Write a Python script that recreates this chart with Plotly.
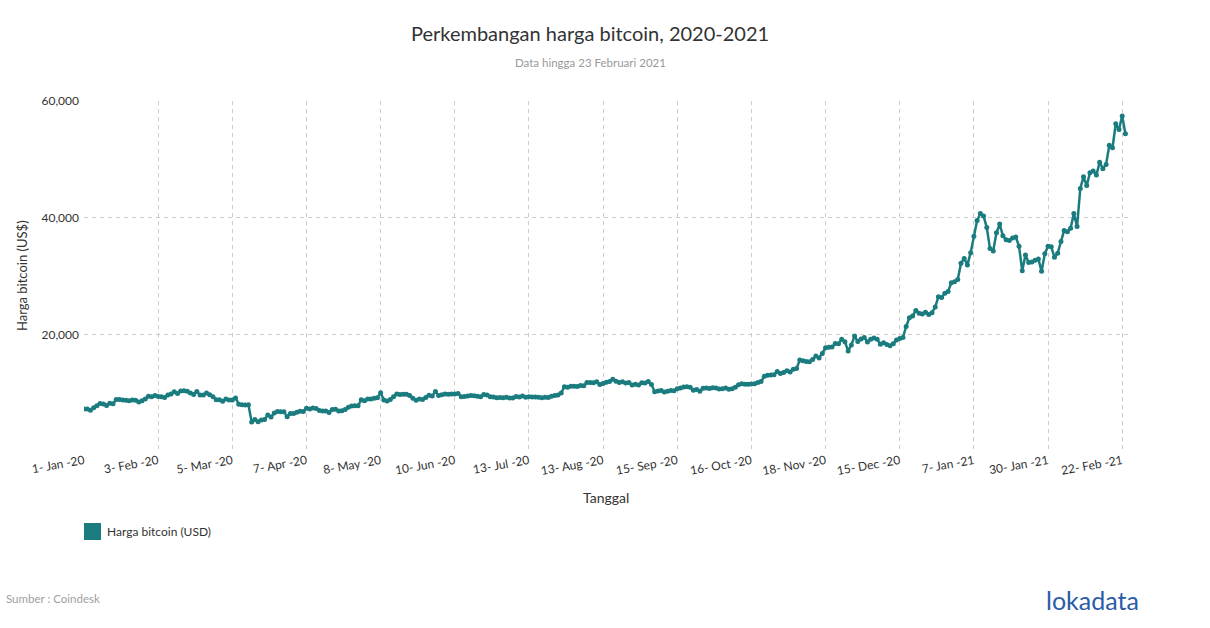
import pandas as pd
import plotly.graph_objects as go

# ---- data (price in USD) ----
weekday_dates = pd.bdate_range("2020-01-01", "2020-12-04")
daily_dates = pd.date_range("2020-12-05", "2021-02-23")
dates = list(weekday_dates) + list(daily_dates)

price_jan20 = [7193, 7200, 6985, 7411, 7770, 8160, 8045, 7818, 8180, 8110, 8810, 8820,
               8725, 8700, 8630, 8735, 8680, 8395, 8595, 8910, 9390, 9290, 9510]
price_feb20 = [9345, 9290, 9180, 9615, 9755, 10165, 9860, 10270, 10350, 10240, 9935,
               9705, 10185, 9595, 9610, 9925, 9650, 9315, 8785, 8785]
price_mar20 = [8530, 8915, 8755, 8755, 9080, 8035, 7935, 7895, 7935, 4970, 5390, 5015,
               5330, 5395, 6190, 5830, 6495, 6770, 6710, 6750, 5880, 6430]
price_apr20 = [6410, 6640, 6810, 6790, 7340, 7205, 7360, 7300, 6960, 6845, 6860, 6620,
               7115, 7150, 6840, 6880, 7125, 7480, 7700, 7760, 7760, 8780]
price_may20 = [8620, 8900, 8900, 9030, 9150, 9990, 8760, 8570, 8810, 9300, 9790, 9670,
               9730, 9730, 9520, 9060, 8720, 8900, 8840, 9180, 9570]
price_jun20 = [9450, 10200, 9520, 9660, 9790, 9750, 9770, 9780, 9875, 9320, 9340, 9430,
               9525, 9460, 9380, 9290, 9680, 9620, 9290, 9250, 9120, 9190]
price_jul20 = [9135, 9230, 9090, 9070, 9340, 9250, 9435, 9230, 9300, 9240, 9250, 9195,
               9130, 9210, 9160, 9390, 9520, 9580, 9930, 11030, 10910, 11100, 11110]
price_aug20 = [11070, 11230, 11190, 11740, 11760, 11680, 11880, 11400, 11570, 11780,
               11910, 12290, 11970, 11750, 11860, 11650, 11750, 11330, 11460, 11320, 11710]
price_sep20 = [11650, 11920, 11390, 10170, 10280, 10380, 10130, 10240, 10370, 10330,
               10680, 10790, 10960, 11000, 10920, 10420, 10540, 10240, 10740, 10780,
               10700, 10840]
price_oct20 = [10780, 10620, 10670, 10790, 10600, 10670, 10920, 11370, 11550, 11430,
               11430, 11500, 11510, 11760, 11920, 12820, 12990, 13030, 13070, 13650,
               13280, 13460]
price_nov20 = [13760, 13550, 14030, 14150, 15590, 15480, 15330, 15300, 15700, 16280,
               15960, 16730, 17680, 17800, 17820, 18410, 18370, 19160, 18730, 17150, 18180]
price_dec20 = [19700, 18790, 19220, 19450,
               18700, 19150, 19360, 19170, 18320, 18550, 18250, 18050, 18400, 19050,
               19300, 19450, 21350, 22850, 23150, 24100, 23600, 23500, 23800, 23400,
               23700, 24700, 26450, 26300, 27050, 27350, 28850]
price_jan21 = [29000, 29400, 32200, 33000, 31900, 34000, 36800, 39500, 40700, 40300,
               38300, 34700, 34300, 37400, 38900, 36900, 36200, 36100, 36500, 36700,
               35100, 30900, 33600, 32300, 32400, 32700, 32900, 30800, 33800, 35100, 35000]
price_feb21 = [33200, 33900, 35900, 37800, 37600, 38200, 40700, 38500, 45000, 47000,
               45500, 47700, 48000, 47300, 49500, 48400, 49100, 52400, 52000, 56100,
               55100, 57450, 54400]

prices = (price_jan20 + price_feb20 + price_mar20 + price_apr20 + price_may20 +
          price_jun20 + price_jul20 + price_aug20 + price_sep20 + price_oct20 +
          price_nov20 + price_dec20 + price_jan21 + price_feb21)

labels = [f"{d.day}- {d.strftime('%b')} -{d.strftime('%y')}" for d in dates]
tick_step = 23
tick_labels = labels[::tick_step]

series_name = "Harga bitcoin (USD)"
teal = "#1b7c7f"
font_family = "Lato, 'Open Sans', sans-serif"

# plot area in px: x 84..1128, y 101..451
L, R, T, B = 84, 1128, 101, 451
W, H = R - L, B - T
def px(x):
    return (x - L) / W
def py(y):
    return (B - y) / H

fig = go.Figure()
fig.add_trace(go.Scatter(
    x=labels, y=prices, mode="lines+markers", name=series_name,
    line=dict(color=teal, width=2.5), marker=dict(color=teal, size=5),
    showlegend=False,
    hovertemplate="%{x}<br>%{y:,.0f}<extra></extra>",
))

grid = "#cccccc"
fig.update_layout(
    width=1210, height=628,
    margin=dict(l=L, r=1210 - R, t=T, b=628 - B),
    paper_bgcolor="white", plot_bgcolor="white",
    font=dict(family=font_family, color="#333333", size=12),
    xaxis=dict(
        type="category", range=[0, len(prices) - 0.2],
        tickvals=tick_labels, ticktext=tick_labels, tickangle=-10,
        showgrid=True, gridcolor=grid, griddash="4px,4px", gridwidth=1,
        showline=False, zeroline=False, ticks="",
        tickfont=dict(size=12, color="#333333"),
    ),
    yaxis=dict(
        range=[0, 60000], tickvals=[0, 20000, 40000, 60000],
        ticktext=["", "20,000", "40,000", "60,000"],
        showgrid=True, gridcolor=grid, griddash="4px,4px", gridwidth=1,
        showline=False, zeroline=False, ticks="", ticklabelstandoff=4,
        tickfont=dict(size=12, color="#333333"),
    ),
    showlegend=False,
    shapes=[
        dict(type="rect", xref="paper", yref="paper",
             x0=px(84), x1=px(101), y0=py(540), y1=py(523),
             fillcolor=teal, line=dict(width=0)),
    ],
    annotations=[
        dict(text="Perkembangan harga bitcoin, 2020-2021", xref="paper", yref="paper",
             x=px(590), y=py(33), showarrow=False, xanchor="center", yanchor="middle",
             font=dict(size=20, color="#333333")),
        dict(text="Data hingga 23 Februari 2021", xref="paper", yref="paper",
             x=px(590), y=py(62), showarrow=False, xanchor="center", yanchor="middle",
             font=dict(size=11.5, color="#999999")),
        dict(text="Harga bitcoin (US$)", xref="paper", yref="paper",
             x=px(22), y=0.5, showarrow=False, textangle=-90,
             xanchor="center", yanchor="middle", font=dict(size=13, color="#333333")),
        dict(text="Tanggal", xref="paper", yref="paper",
             x=0.5, y=py(497), showarrow=False, xanchor="center", yanchor="middle",
             font=dict(size=14, color="#333333")),
        dict(text=series_name, xref="paper", yref="paper",
             x=px(105), y=py(531), showarrow=False, xanchor="left", yanchor="middle",
             font=dict(size=12, color="#333333")),
        dict(text="Sumber : Coindesk", xref="paper", yref="paper",
             x=px(4), y=py(598), showarrow=False, xanchor="left", yanchor="middle",
             font=dict(size=11.5, color="#a0a0a0")),
        dict(text="lokadata", xref="paper", yref="paper",
             x=px(1141), y=py(600), showarrow=False, xanchor="right", yanchor="middle",
             font=dict(size=25, color="#2a5ca8")),
    ],
)

fig.write_html("out.html", config={"displayModeBar": False},
               post_script="document.body.style.margin='0';document.body.style.overflow='hidden';")
